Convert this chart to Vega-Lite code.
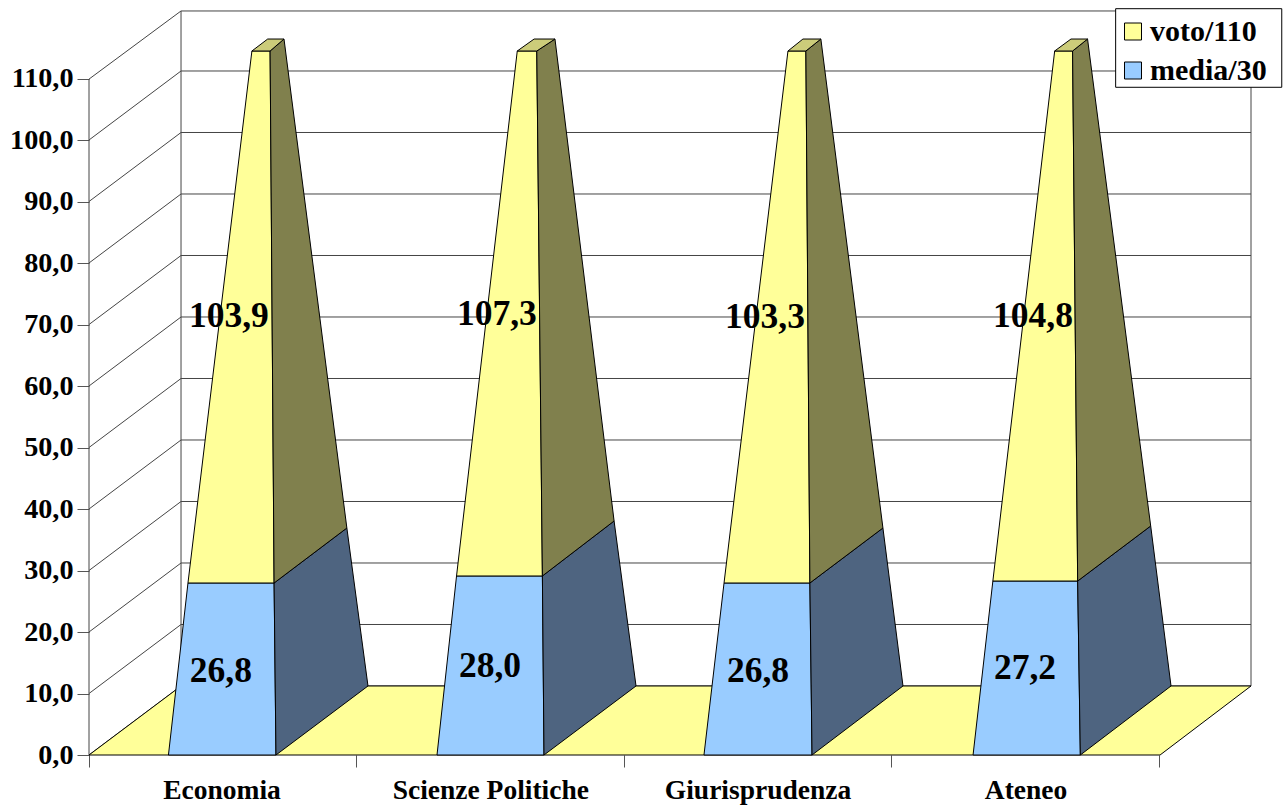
{"$schema":"https://vega.github.io/schema/vega-lite/v6.json","width":1162,"height":744,"autosize":{"type":"none"},"padding":{"left":89,"top":11,"right":34,"bottom":53},"background":"white","config":{"view":{"stroke":null},"text":{"font":"Liberation Serif","fontWeight":"bold","color":"black"}},
"datasets":{
"grid":[
{"line":"v0","seq":1,"x":0,"y":0},{"line":"v0","seq":2,"x":0.344,"y":11.22},{"line":"v0","seq":3,"x":4.344,"y":11.22},
{"line":"v10","seq":1,"x":0,"y":10},{"line":"v10","seq":2,"x":0.344,"y":21.22},{"line":"v10","seq":3,"x":4.344,"y":21.22},
{"line":"v20","seq":1,"x":0,"y":20},{"line":"v20","seq":2,"x":0.344,"y":31.22},{"line":"v20","seq":3,"x":4.344,"y":31.22},
{"line":"v30","seq":1,"x":0,"y":30},{"line":"v30","seq":2,"x":0.344,"y":41.22},{"line":"v30","seq":3,"x":4.344,"y":41.22},
{"line":"v40","seq":1,"x":0,"y":40},{"line":"v40","seq":2,"x":0.344,"y":51.22},{"line":"v40","seq":3,"x":4.344,"y":51.22},
{"line":"v50","seq":1,"x":0,"y":50},{"line":"v50","seq":2,"x":0.344,"y":61.22},{"line":"v50","seq":3,"x":4.344,"y":61.22},
{"line":"v60","seq":1,"x":0,"y":60},{"line":"v60","seq":2,"x":0.344,"y":71.22},{"line":"v60","seq":3,"x":4.344,"y":71.22},
{"line":"v70","seq":1,"x":0,"y":70},{"line":"v70","seq":2,"x":0.344,"y":81.22},{"line":"v70","seq":3,"x":4.344,"y":81.22},
{"line":"v80","seq":1,"x":0,"y":80},{"line":"v80","seq":2,"x":0.344,"y":91.22},{"line":"v80","seq":3,"x":4.344,"y":91.22},
{"line":"v90","seq":1,"x":0,"y":90},{"line":"v90","seq":2,"x":0.344,"y":101.22},{"line":"v90","seq":3,"x":4.344,"y":101.22},
{"line":"v100","seq":1,"x":0,"y":100},{"line":"v100","seq":2,"x":0.344,"y":111.22},{"line":"v100","seq":3,"x":4.344,"y":111.22},
{"line":"v110","seq":1,"x":0,"y":109.9},{"line":"v110","seq":2,"x":0.344,"y":120.98},{"line":"v110","seq":3,"x":4.344,"y":120.98},
{"line":"left","seq":1,"x":0,"y":0},{"line":"left","seq":2,"x":0,"y":109.9},
{"line":"back","seq":1,"x":0.344,"y":11.22},{"line":"back","seq":2,"x":0.344,"y":120.98},
{"line":"right","seq":1,"x":4.344,"y":11.22},{"line":"right","seq":2,"x":4.344,"y":120.98}
],
"floor":[{"seq":1,"x":0,"y":0},{"seq":2,"x":0.344,"y":11.22},{"seq":3,"x":4.344,"y":11.22},{"seq":4,"x":4.004,"y":0}],
"faces":[
{"category":"Economia","part":"media/30","seq":1,"x":0.297,"y":0},{"category":"Economia","part":"media/30","seq":2,"x":0.699,"y":0},{"category":"Economia","part":"media/30","seq":3,"x":0.692,"y":27.97},{"category":"Economia","part":"media/30","seq":4,"x":0.370,"y":27.97},
{"category":"Economia","part":"media/30 lato","seq":1,"x":0.699,"y":0},{"category":"Economia","part":"media/30 lato","seq":2,"x":1.043,"y":11.22},{"category":"Economia","part":"media/30 lato","seq":3,"x":0.964,"y":36.91},{"category":"Economia","part":"media/30 lato","seq":4,"x":0.692,"y":27.97},
{"category":"Economia","part":"voto/110","seq":1,"x":0.370,"y":27.97},{"category":"Economia","part":"voto/110","seq":2,"x":0.692,"y":27.97},{"category":"Economia","part":"voto/110","seq":3,"x":0.677,"y":114.47},{"category":"Economia","part":"voto/110","seq":4,"x":0.609,"y":114.47},
{"category":"Economia","part":"voto/110 lato","seq":1,"x":0.692,"y":27.97},{"category":"Economia","part":"voto/110 lato","seq":2,"x":0.964,"y":36.91},{"category":"Economia","part":"voto/110 lato","seq":3,"x":0.729,"y":116.42},{"category":"Economia","part":"voto/110 lato","seq":4,"x":0.677,"y":114.47},
{"category":"Economia","part":"voto/110 cima","seq":1,"x":0.609,"y":114.47},{"category":"Economia","part":"voto/110 cima","seq":2,"x":0.677,"y":114.47},{"category":"Economia","part":"voto/110 cima","seq":3,"x":0.729,"y":116.42},{"category":"Economia","part":"voto/110 cima","seq":4,"x":0.668,"y":116.42},
{"category":"Scienze Politiche","part":"media/30","seq":1,"x":1.301,"y":0},{"category":"Scienze Politiche","part":"media/30","seq":2,"x":1.701,"y":0},{"category":"Scienze Politiche","part":"media/30","seq":3,"x":1.695,"y":29.11},{"category":"Scienze Politiche","part":"media/30","seq":4,"x":1.374,"y":29.11},
{"category":"Scienze Politiche","part":"media/30 lato","seq":1,"x":1.701,"y":0},{"category":"Scienze Politiche","part":"media/30 lato","seq":2,"x":2.045,"y":11.22},{"category":"Scienze Politiche","part":"media/30 lato","seq":3,"x":1.963,"y":38.05},{"category":"Scienze Politiche","part":"media/30 lato","seq":4,"x":1.695,"y":29.11},
{"category":"Scienze Politiche","part":"voto/110","seq":1,"x":1.374,"y":29.11},{"category":"Scienze Politiche","part":"voto/110","seq":2,"x":1.695,"y":29.11},{"category":"Scienze Politiche","part":"voto/110","seq":3,"x":1.674,"y":114.47},{"category":"Scienze Politiche","part":"voto/110","seq":4,"x":1.601,"y":114.47},
{"category":"Scienze Politiche","part":"voto/110 lato","seq":1,"x":1.695,"y":29.11},{"category":"Scienze Politiche","part":"voto/110 lato","seq":2,"x":1.963,"y":38.05},{"category":"Scienze Politiche","part":"voto/110 lato","seq":3,"x":1.742,"y":116.42},{"category":"Scienze Politiche","part":"voto/110 lato","seq":4,"x":1.674,"y":114.47},
{"category":"Scienze Politiche","part":"voto/110 cima","seq":1,"x":1.601,"y":114.47},{"category":"Scienze Politiche","part":"voto/110 cima","seq":2,"x":1.674,"y":114.47},{"category":"Scienze Politiche","part":"voto/110 cima","seq":3,"x":1.742,"y":116.42},{"category":"Scienze Politiche","part":"voto/110 cima","seq":4,"x":1.664,"y":116.42},
{"category":"Giurisprudenza","part":"media/30","seq":1,"x":2.299,"y":0},{"category":"Giurisprudenza","part":"media/30","seq":2,"x":2.703,"y":0},{"category":"Giurisprudenza","part":"media/30","seq":3,"x":2.695,"y":27.97},{"category":"Giurisprudenza","part":"media/30","seq":4,"x":2.374,"y":27.97},
{"category":"Giurisprudenza","part":"media/30 lato","seq":1,"x":2.703,"y":0},{"category":"Giurisprudenza","part":"media/30 lato","seq":2,"x":3.043,"y":11.22},{"category":"Giurisprudenza","part":"media/30 lato","seq":3,"x":2.968,"y":36.91},{"category":"Giurisprudenza","part":"media/30 lato","seq":4,"x":2.695,"y":27.97},
{"category":"Giurisprudenza","part":"voto/110","seq":1,"x":2.374,"y":27.97},{"category":"Giurisprudenza","part":"voto/110","seq":2,"x":2.695,"y":27.97},{"category":"Giurisprudenza","part":"voto/110","seq":3,"x":2.680,"y":114.47},{"category":"Giurisprudenza","part":"voto/110","seq":4,"x":2.613,"y":114.47},
{"category":"Giurisprudenza","part":"voto/110 lato","seq":1,"x":2.695,"y":27.97},{"category":"Giurisprudenza","part":"voto/110 lato","seq":2,"x":2.968,"y":36.91},{"category":"Giurisprudenza","part":"voto/110 lato","seq":3,"x":2.736,"y":116.42},{"category":"Giurisprudenza","part":"voto/110 lato","seq":4,"x":2.680,"y":114.47},
{"category":"Giurisprudenza","part":"voto/110 cima","seq":1,"x":2.613,"y":114.47},{"category":"Giurisprudenza","part":"voto/110 cima","seq":2,"x":2.680,"y":114.47},{"category":"Giurisprudenza","part":"voto/110 cima","seq":3,"x":2.736,"y":116.42},{"category":"Giurisprudenza","part":"voto/110 cima","seq":4,"x":2.669,"y":116.42},
{"category":"Ateneo","part":"media/30","seq":1,"x":3.305,"y":0},{"category":"Ateneo","part":"media/30","seq":2,"x":3.706,"y":0},{"category":"Ateneo","part":"media/30","seq":3,"x":3.696,"y":28.29},{"category":"Ateneo","part":"media/30","seq":4,"x":3.379,"y":28.29},
{"category":"Ateneo","part":"media/30 lato","seq":1,"x":3.706,"y":0},{"category":"Ateneo","part":"media/30 lato","seq":2,"x":4.045,"y":11.22},{"category":"Ateneo","part":"media/30 lato","seq":3,"x":3.969,"y":37.24},{"category":"Ateneo","part":"media/30 lato","seq":4,"x":3.696,"y":28.29},
{"category":"Ateneo","part":"voto/110","seq":1,"x":3.379,"y":28.29},{"category":"Ateneo","part":"voto/110","seq":2,"x":3.696,"y":28.29},{"category":"Ateneo","part":"voto/110","seq":3,"x":3.677,"y":114.47},{"category":"Ateneo","part":"voto/110","seq":4,"x":3.610,"y":114.47},
{"category":"Ateneo","part":"voto/110 lato","seq":1,"x":3.696,"y":28.29},{"category":"Ateneo","part":"voto/110 lato","seq":2,"x":3.969,"y":37.24},{"category":"Ateneo","part":"voto/110 lato","seq":3,"x":3.733,"y":116.42},{"category":"Ateneo","part":"voto/110 lato","seq":4,"x":3.677,"y":114.47},
{"category":"Ateneo","part":"voto/110 cima","seq":1,"x":3.610,"y":114.47},{"category":"Ateneo","part":"voto/110 cima","seq":2,"x":3.677,"y":114.47},{"category":"Ateneo","part":"voto/110 cima","seq":3,"x":3.733,"y":116.42},{"category":"Ateneo","part":"voto/110 cima","seq":4,"x":3.671,"y":116.42}
],
"labels":[
{"label":"103,9","x":0.523,"y":71.4},{"label":"107,3","x":1.525,"y":71.7},{"label":"103,3","x":2.527,"y":71.2},{"label":"104,8","x":3.529,"y":71.4},
{"label":"26,8","x":0.493,"y":13.66},{"label":"28,0","x":1.499,"y":14.47},{"label":"26,8","x":2.501,"y":13.66},{"label":"27,2","x":3.499,"y":14.15}
],
"cats":[{"category":"Economia","x":0.497,"y":-5.85},{"category":"Scienze Politiche","x":1.502,"y":-5.85},{"category":"Giurisprudenza","x":2.501,"y":-5.85},{"category":"Ateneo","x":3.503,"y":-5.85}],
"legendBox":[{"x":3.838,"x2":4.459,"y":121.35,"y2":108.57}]
},
"encoding":{
"x":{"field":"x","type":"quantitative","scale":{"domain":[0,4.344],"nice":false,"zero":false},"axis":{"title":null,"values":[0,1,2,3,4],"labels":false,"grid":false,"domain":false,"tickSize":12,"tickColor":"#555555","tickWidth":1}},
"y":{"field":"y","type":"quantitative","scale":{"domain":[0,120.976],"nice":false,"zero":false},"axis":{"title":null,"values":[0,10,20,30,40,50,60,70,80,90,100,110],"grid":false,"domain":false,"tickSize":12,"tickColor":"#555555","tickWidth":1,"labelPadding":4,"labelFont":"Liberation Serif","labelFontSize":28.2,"labelFontWeight":"bold","labelColor":"black","labelExpr":"replace(format(datum.value,'.1f'),'.',',')"}}
},
"layer":[
{"data":{"name":"grid"},"mark":{"type":"line","stroke":"#444444","strokeWidth":1,"clip":false},"encoding":{"detail":{"field":"line"},"order":{"field":"seq","type":"quantitative"}}},
{"data":{"name":"floor"},"mark":{"type":"line","interpolate":"linear-closed","fill":"#FFFF99","stroke":"black","strokeWidth":1,"clip":false},"encoding":{"order":{"field":"seq","type":"quantitative"}}},
{"data":{"name":"faces"},"mark":{"type":"line","interpolate":"linear-closed","stroke":"black","strokeWidth":1,"clip":false},"encoding":{
"fill":{"field":"part","type":"nominal","scale":{"domain":["voto/110","media/30","voto/110 lato","media/30 lato","voto/110 cima"],"range":["#FFFF99","#99CCFF","#80804D","#4E6480","#CCCC7A"]},"legend":{"values":["voto/110","media/30"],"title":null,"orient":"none","legendX":1029,"legendY":5.5,"symbolType":"square","symbolSize":289,"symbolStrokeColor":"black","symbolStrokeWidth":1,"symbolOpacity":1,"labelFont":"Liberation Serif","labelFontSize":30,"labelFontWeight":"bold","labelColor":"black","labelOffset":2,"rowPadding":9,"padding":0}},
"detail":{"field":"category"},"order":{"field":"seq","type":"quantitative"}}},
{"data":{"name":"labels"},"mark":{"type":"text","fontSize":35.5,"baseline":"middle","align":"center","clip":false},"encoding":{"text":{"field":"label"}}},
{"data":{"name":"cats"},"mark":{"type":"text","fontSize":27.5,"baseline":"middle","align":"center","clip":false},"encoding":{"text":{"field":"category"}}},
{"data":{"name":"legendBox"},"mark":{"type":"rect","fill":"white","stroke":"black","strokeWidth":1,"clip":false},"encoding":{"x2":{"field":"x2"},"y2":{"field":"y2"}}}
]}
